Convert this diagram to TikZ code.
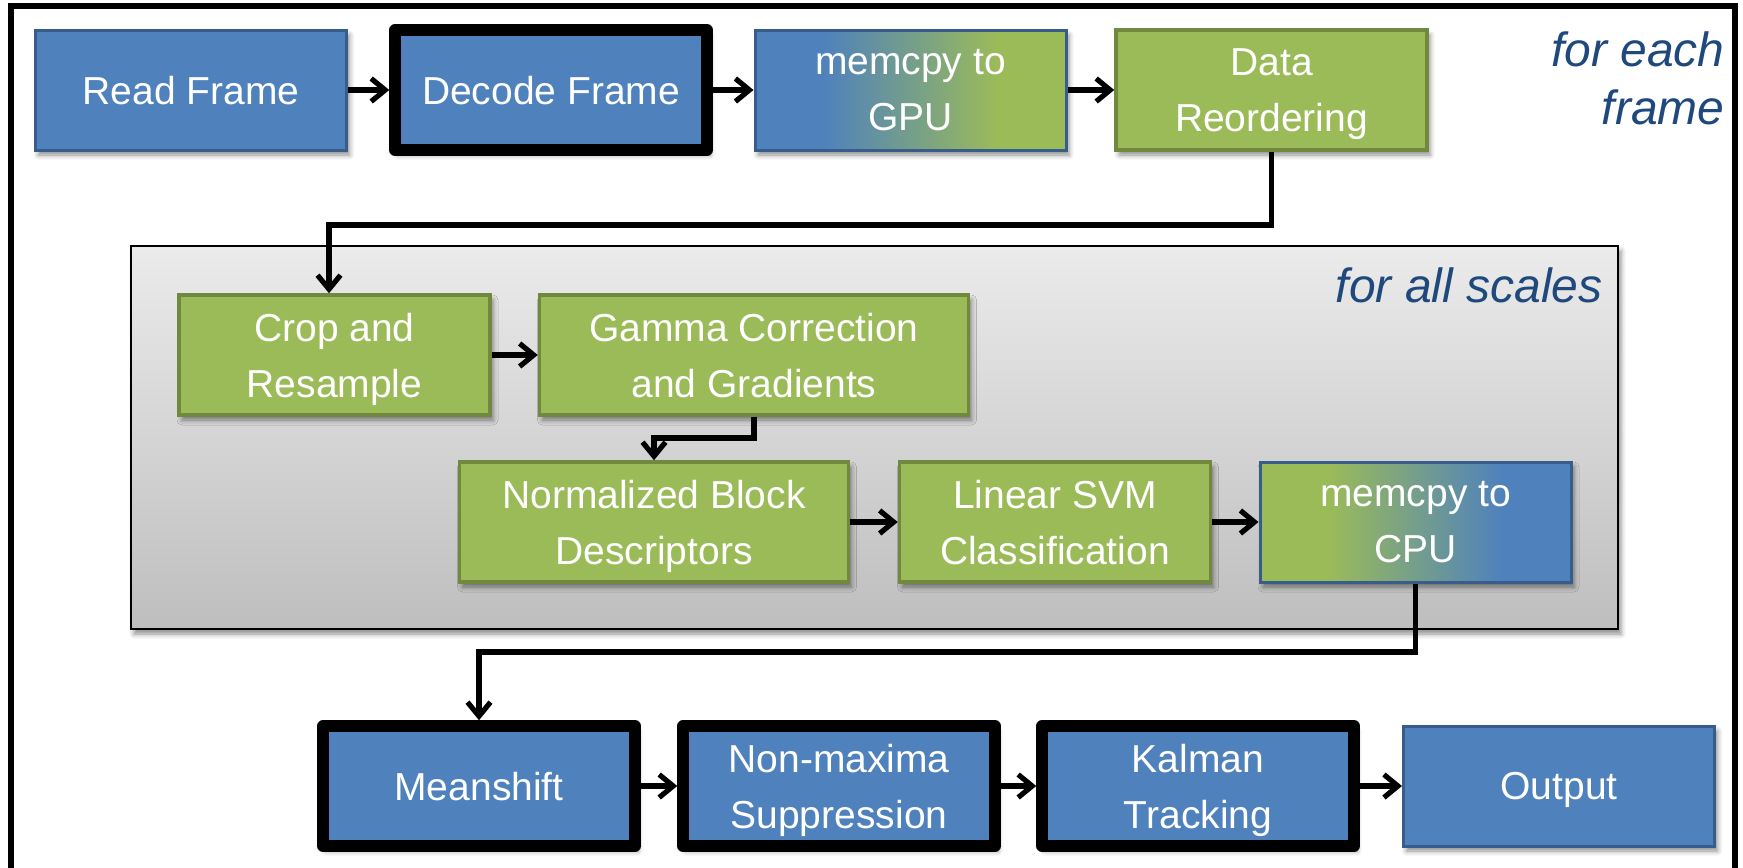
\documentclass[tikz,border=0pt]{standalone}
\usepackage{fontspec}
\setmainfont{Liberation Sans}
\usetikzlibrary{arrows.meta,shadows.blur}

\definecolor{pblue}{HTML}{4F81BD}
\definecolor{pblueb}{HTML}{385D8A}
\definecolor{pgreen}{HTML}{9BBB59}
\definecolor{pgreenb}{HTML}{71893F}
\definecolor{panelhi}{HTML}{EBEBEB}
\definecolor{panello}{HTML}{BEBEBE}
\definecolor{labelblue}{HTML}{1F497D}

% blue-to-green and green-to-blue fills for the transfer stages
\pgfdeclarehorizontalshading{gputone}{100bp}{color(0bp)=(pblue); color(36bp)=(pblue); color(64bp)=(pgreen); color(100bp)=(pgreen)}
\pgfdeclarehorizontalshading{cputone}{100bp}{color(0bp)=(pgreen); color(36bp)=(pgreen); color(64bp)=(pblue); color(100bp)=(pblue)}

\begin{document}
\begin{tikzpicture}[x=0.5pt,y=-0.5pt,
  softshadow/.style={blur shadow={shadow xshift=1.5pt, shadow yshift=-2.5pt,
      shadow blur radius=2.5pt, shadow opacity=45}},
  stage/.style={rectangle, inner sep=0pt, align=center, text=white,
      font=\fontsize{19.5pt}{28pt}\selectfont, text depth=0pt,
      minimum width=155.5pt, minimum height=60pt, softshadow},
  bluestage/.style={stage, fill=pblue, draw=pblueb, line width=1.5pt},
  greenstage/.style={stage, fill=pgreen, draw=pgreenb, line width=1.75pt},
  gpustage/.style={stage, shading=gputone, draw=pblueb, line width=1.5pt},
  cpustage/.style={stage, shading=cputone, draw=pblueb, line width=1.5pt},
  heavystage/.style={stage, fill=pblue, draw=black, line width=5.75pt,
      line join=round, minimum width=156pt, minimum height=60pt},
  panel/.style={rectangle, draw=black, line width=1.25pt, top color=panelhi,
      bottom color=panello, minimum width=743.5pt, minimum height=191.5pt,
      inner sep=0pt, softshadow},
  tag/.style={inner sep=0pt, text=labelblue,
      font=\fontsize{24pt}{29pt}\selectfont\itshape},
  conn/.style={line width=2.6pt, -{Straight Barb[length=7pt,width=11.5pt]}},
  frameline/.style={line width=3pt}]

\useasboundingbox (0,0) rectangle (1743,867);
\clip (0,0) rectangle (1743,867);

% outer frame: per-frame loop
\draw[frameline] (11,900) |- (1735,6) -- (1735,900);
\node[tag, align=right, anchor=north east] (eachframe) at (1725,31) {for each\\frame};

% inner panel: per-scale loop
\node[panel] (scales) at (874.5,437.5) {};
\node[tag, anchor=base east] (allscales) at (1603,302) {for all scales};

% stages
\node[bluestage]  (read)    at (191,90)    {Read Frame};
\node[heavystage] (decode)  at (551,90)    {Decode Frame};
\node[gpustage]   (togpu)   at (910.5,90)  {memcpy to\\GPU};
\node[greenstage] (reorder) at (1271.5,90) {Data\\Reordering};

\node[greenstage] (crop)  at (334.5,355) {Crop and\\Resample};
\node[greenstage, minimum width=214.5pt] (gamma) at (754,355) {Gamma Correction\\and Gradients};

\node[greenstage, minimum width=194.5pt] (blocks) at (654,522) {Normalized Block\\Descriptors};
\node[greenstage] (svm)   at (1055,522)   {Linear SVM\\Classification};
\node[cpustage]   (tocpu) at (1415.5,522) {memcpy to\\CPU};

\node[heavystage] (meanshift) at (479,786)  {Meanshift};
\node[heavystage] (nms)       at (839,786)  {Non-maxima\\Suppression};
\node[heavystage] (kalman)    at (1198,786) {Kalman\\Tracking};
\node[bluestage]  (output)    at (1559,786) {Output};

% connectors
\coordinate (bendA) at (329,225);
\coordinate (bendB) at (654,438);
\coordinate (bendC) at (479,652);

\draw[conn] (read.east) -- (decode.west);
\draw[conn] (decode.east) -- (togpu.west);
\draw[conn] (togpu.east) -- (reorder.west);
\draw[conn] (reorder.south) |- (bendA) -- (bendA |- crop.north);
\draw[conn] (crop.east) -- (gamma.west);
\draw[conn] (gamma.south) |- (bendB) -- (blocks.north);
\draw[conn] (blocks.east) -- (svm.west);
\draw[conn] (svm.east) -- (tocpu.west);
\draw[conn] (tocpu.south) |- (bendC) -- (meanshift.north);
\draw[conn] (meanshift.east) -- (nms.west);
\draw[conn] (nms.east) -- (kalman.west);
\draw[conn] (kalman.east) -- (output.west);
\end{tikzpicture}
\end{document}
